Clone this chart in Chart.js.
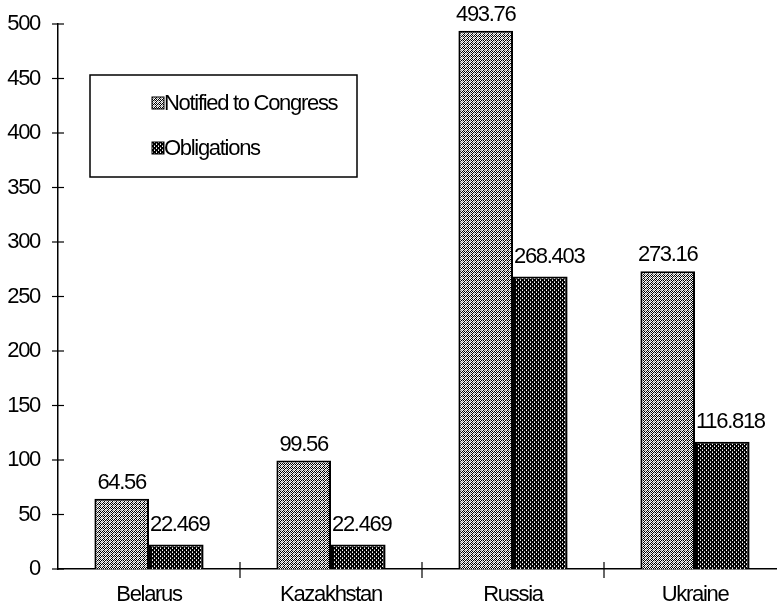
<!DOCTYPE html>
<html>
<head>
<meta charset="utf-8">
<script src="https://cdn.jsdelivr.net/npm/chart.js@4/dist/chart.umd.min.js"></script>
<style>
  html, body { margin: 0; padding: 0; background: #fff; overflow: hidden; }
  #wrap { width: 790px; height: 613px; }
</style>
</head>
<body>
<div id="wrap"><canvas id="my-chart"></canvas></div>
<script>
const categories = ['Belarus', 'Kazakhstan', 'Russia', 'Ukraine']
const notified = [64.56, 99.56, 493.76, 273.16]
const obligations = [22.469, 22.469, 268.403, 116.818]
const seriesNames = ['Notified to Congress', 'Obligations']
const yMin = 0
const yMax = 500
const yStep = 50

const font = '"Liberation Sans", Arial, sans-serif'
const fontSize = 22

// little 4x4 tiles to mimic the dithered hatching of the scan
function makePattern(cells) {
  const c = document.createElement('canvas')
  c.width = 4
  c.height = 4
  const g = c.getContext('2d')
  cells.forEach((row, y) => {
    row.forEach((col, x) => {
      g.fillStyle = col
      g.fillRect(x, y, 1, 1)
    })
  })
  return g.createPattern(c, 'repeat')
}
const W = '#ffffff', B = '#000000', G = '#9a9a9a', L = '#d0d0d0'
const lightHatch = makePattern([
  [W, B, L, B],
  [B, W, G, W],
  [L, G, W, B],
  [B, W, B, W]
])
const darkHatch = makePattern([
  [W, B, B, B],
  [B, B, G, B],
  [B, B, W, B],
  [G, B, B, B]
])

// the scan uses a narrow face, squeeze the text a bit
const tightText = {
  id: 'tightText',
  beforeDraw(chart) {
    chart.ctx.letterSpacing = '-1.3px'
  }
}

const crossTicks = {
  id: 'crossTicks',
  afterDraw(chart) {
    const ctx = chart.ctx
    const x = chart.scales.x
    const y = chart.scales.y
    ctx.save()
    ctx.strokeStyle = '#000'
    ctx.lineWidth = 1.2
    y.ticks.forEach(t => {
      const py = y.getPixelForValue(t.value)
      ctx.beginPath()
      ctx.moveTo(y.right - 6, py)
      ctx.lineTo(y.right + 6, py)
      ctx.stroke()
    })
    const w = (x.right - x.left) / categories.length
    for (let i = 1; i < categories.length; i++) {
      const px = x.left + i * w
      ctx.beginPath()
      ctx.moveTo(px, x.top - 7)
      ctx.lineTo(px, x.top + 9)
      ctx.stroke()
    }
    ctx.restore()
  }
}

const valueLabels = {
  id: 'valueLabels',
  afterDatasetsDraw(chart) {
    const ctx = chart.ctx
    ctx.save()
    ctx.fillStyle = '#000'
    ctx.font = fontSize + 'px ' + font
    ctx.textBaseline = 'bottom'
    chart.data.datasets.forEach((ds, di) => {
      chart.getDatasetMeta(di).data.forEach((bar, i) => {
        const txt = String(ds.data[i])
        if (di === 0) {
          ctx.textAlign = 'center'
          ctx.fillText(txt, bar.x, bar.y - 5)
        } else {
          ctx.textAlign = 'left'
          ctx.fillText(txt, bar.x - bar.width / 2 + 1, bar.y - 9)
        }
      })
    })
    ctx.restore()
  }
}

const boxLegend = {
  id: 'boxLegend',
  afterDraw(chart) {
    const ctx = chart.ctx
    const area = chart.chartArea
    const bx = area.left + 32
    const by = area.top + 51
    ctx.save()
    ctx.fillStyle = '#fff'
    ctx.fillRect(bx, by, 267, 102)
    ctx.strokeStyle = '#000'
    ctx.lineWidth = 1.5
    ctx.strokeRect(bx, by, 267, 102)
    ctx.font = fontSize + 'px ' + font
    ctx.textBaseline = 'middle'
    ctx.textAlign = 'left'
    chart.data.datasets.forEach((ds, i) => {
      const cy = by + 28 + i * 45
      ctx.fillStyle = ds.backgroundColor
      ctx.fillRect(bx + 62, cy - 6, 12, 12)
      ctx.strokeStyle = '#000'
      ctx.lineWidth = 1
      ctx.strokeRect(bx + 62, cy - 6, 12, 12)
      ctx.fillStyle = '#000'
      ctx.fillText(ds.label, bx + 74, cy + 1)
    })
    ctx.restore()
  }
}

const ctx = document.getElementById('my-chart').getContext('2d')
const chart = new Chart(ctx, {
  type: 'bar',
  data: {
    labels: categories,
    datasets: [
      {
        label: seriesNames[0],
        data: notified,
        backgroundColor: lightHatch,
        borderColor: '#000',
        borderWidth: 2,
        borderSkipped: 'bottom'
      },
      {
        label: seriesNames[1],
        data: obligations,
        backgroundColor: darkHatch,
        borderColor: '#000',
        borderWidth: 2,
        borderSkipped: 'bottom'
      }
    ]
  },
  options: {
    responsive: true,
    maintainAspectRatio: false,
    animation: false,
    events: [],
    layout: { padding: { top: 24, right: 4, left: 0, bottom: 0 } },
    datasets: {
      bar: { categoryPercentage: 0.6, barPercentage: 1.0 }
    },
    plugins: {
      legend: { display: false },
      tooltip: { enabled: false },
      title: { display: false }
    },
    scales: {
      x: {
        grid: { display: false, drawTicks: false },
        border: { display: true, color: '#000', width: 1.5 },
        ticks: { color: '#000', font: { family: font, size: fontSize }, padding: 13 },
        afterFit(scale) {
          scale.height = 44
          scale.paddingLeft = 0
          scale.paddingRight = 0
        }
      },
      y: {
        min: yMin,
        max: yMax,
        grid: { display: false, drawTicks: false },
        border: { display: true, color: '#000', width: 1.5 },
        ticks: { stepSize: yStep, color: '#000', font: { family: font, size: fontSize }, padding: 18 },
        afterFit(scale) {
          scale.width = 58
          scale.paddingTop = 0
          scale.paddingBottom = 0
        }
      }
    }
  },
  plugins: [tightText, crossTicks, valueLabels, boxLegend]
})
</script>
</body>
</html>
